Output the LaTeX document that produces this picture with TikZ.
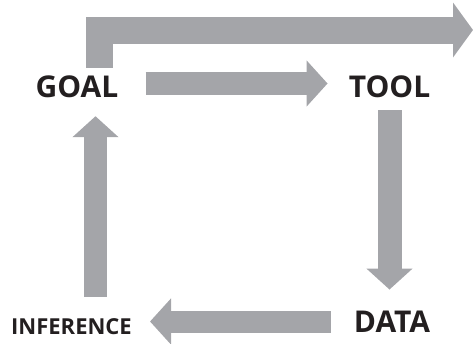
\documentclass[tikz,border=0pt]{standalone}
\usepackage{fontspec}
\setmainfont{Open Sans}
\usetikzlibrary{arrows.meta}
\definecolor{arrowgray}{RGB}{164,165,169}
\definecolor{textblack}{RGB}{35,31,32}
\begin{document}
\begin{tikzpicture}[x=1pt,y=-1pt,
  label/.style={inner sep=0pt,text=textblack,font=\bfseries\fontsize{30}{30}\selectfont},
  small label/.style={label,font=\bfseries\fontsize{22}{22}\selectfont},
  block/.style={draw=arrowgray,line width=23pt,-{Triangle[length=21pt,width=45pt]},color=arrowgray}]
\useasboundingbox (0,0) rectangle (473,343);

\node[label] (goal) at (77,87) {GOAL};
\node[label] (tool) at (389.5,87) {TOOL};
\node[label] (data) at (392,321.5) {DATA};
\node[small label] (inference) at (71.5,327) {INFERENCE};
\coordinate (exit) at (473,30);

% cycle
\path[block,shorten <=27pt,shorten >=21pt] ([yshift=3.5pt]goal.east) -- ([yshift=3.5pt]goal.east -| tool.west);
\path[block,line width=24pt,shorten <=12pt,shorten >=21pt] (tool.south) -- (tool.south |- data.north);
\path[block,line width=22pt,shorten <=23pt,shorten >=18pt] (data.west) -- (data.west -| inference.east);
\path[block,shorten <=22pt,shorten >=18pt] ([xshift=24pt]inference.north) -- ([xshift=18.5pt]goal.south);

% way out
\path[block,line width=27pt,line join=miter,shorten <=8pt,-{Triangle[length=20pt,width=54pt]}] ([xshift=22pt]goal.north) |- (exit);

\end{tikzpicture}
\end{document}
